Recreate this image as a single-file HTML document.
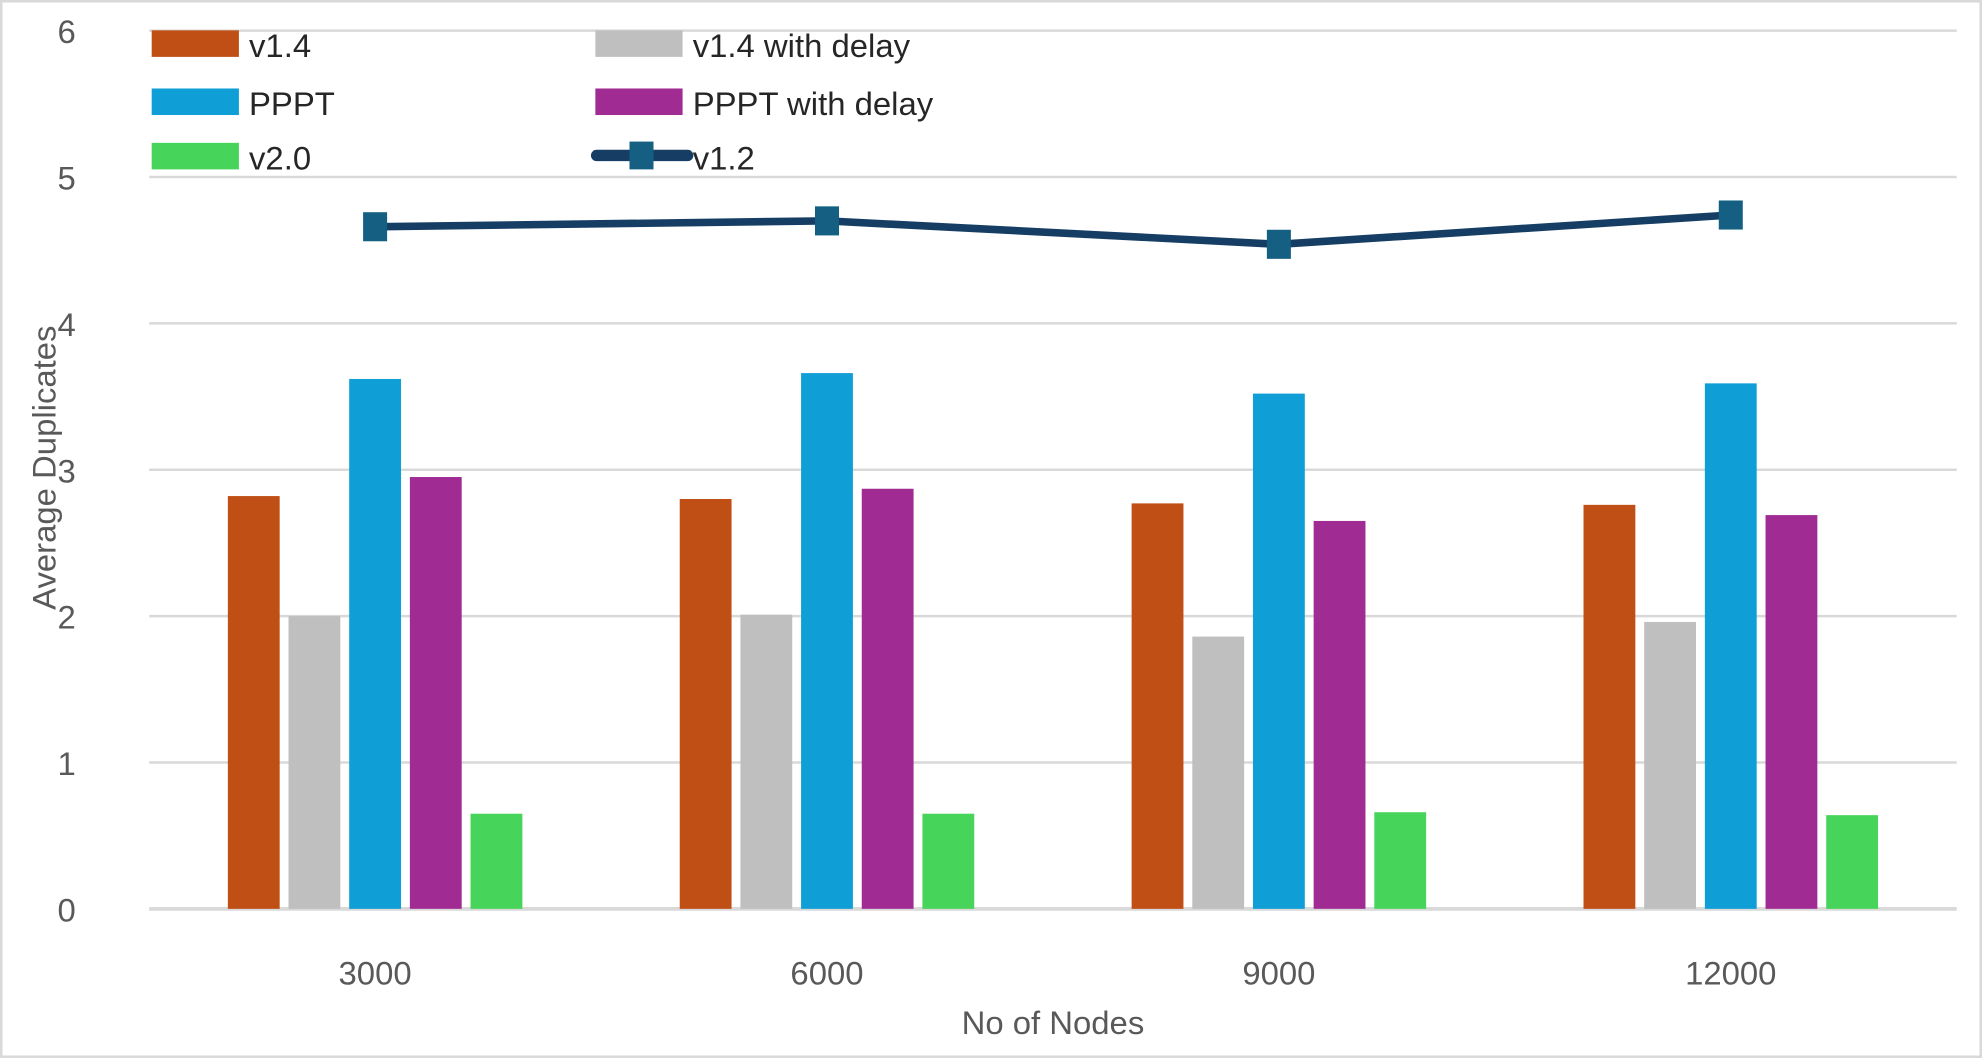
<!DOCTYPE html>
<html><head><meta charset="utf-8"><style>
html,body{margin:0;padding:0;background:#fff;}
svg{display:block;font-family:"Liberation Sans",sans-serif;}
</style></head><body>
<svg id="chart" width="1982" height="1058" viewBox="0 0 1568 837" xmlns="http://www.w3.org/2000/svg">
<rect x="1" y="1" width="1566" height="835" fill="#fff" stroke="#d9d9d9" stroke-width="2"/>
<g id="grid"></g><g id="bars"></g><g id="line"></g><g id="axes"></g>
<text x="833" y="818" font-size="26" fill="#595959" text-anchor="middle">No of Nodes</text>
<text transform="translate(44,370) rotate(-90)" font-size="26" fill="#595959" text-anchor="middle">Average Duplicates</text>
<g>
<rect x="120" y="24" width="69" height="21" fill="#c04f15"/>
<text x="197" y="45" font-size="26" fill="#262626">v1.4</text>
<rect x="471" y="24" width="69" height="21" fill="#bfbfbf"/>
<text x="548" y="45" font-size="26" fill="#262626">v1.4 with delay</text>
<rect x="120" y="70" width="69" height="21" fill="#0f9ed5"/>
<text x="197" y="91" font-size="26" fill="#262626">PPPT</text>
<rect x="471" y="70" width="69" height="21" fill="#a02b93"/>
<text x="548" y="91" font-size="26" fill="#262626">PPPT with delay</text>
<rect x="120" y="113" width="69" height="21" fill="#47d45a"/>
<text x="197" y="134" font-size="26" fill="#262626">v2.0</text>
<line x="0" x1="472" y1="123" x2="544" y2="123" stroke="#163e64" stroke-width="9" stroke-linecap="round"/>
<rect x="498" y="112" width="19" height="22" fill="#156082"/>
<text x="548" y="134" font-size="26" fill="#262626">v1.2</text>
</g>
</svg>
<script>
const categories = ["3000","6000","9000","12000"];
const v14 = [2.82, 2.80, 2.77, 2.76];
const v14delay = [2.00, 2.01, 1.86, 1.96];
const pppt = [3.62, 3.66, 3.52, 3.59];
const ppptdelay = [2.95, 2.87, 2.65, 2.69];
const v20 = [0.65, 0.65, 0.66, 0.64];
const v12 = [4.66, 4.70, 4.54, 4.74];
const yTicks = [0,1,2,3,4,5,6];

const NS="http://www.w3.org/2000/svg";
const L=118,R=1548,Y0=719,UNIT=115.8;
const y=v=>Y0-v*UNIT;
const band=(R-L)/categories.length;
const xc=i=>L+band*(i+0.5);
function mk(tag,attrs,parent){const e=document.createElementNS(NS,tag);for(const k in attrs)e.setAttribute(k,attrs[k]);parent.appendChild(e);return e;}
const grid=document.getElementById('grid'),axes=document.getElementById('axes'),bars=document.getElementById('bars'),line=document.getElementById('line');
yTicks.forEach(t=>{
  const g=mk('line',{x1:L,x2:R,y1:y(t),y2:y(t),stroke:'#d9d9d9','stroke-width':t===0?3:2},grid);
  
  
  const tx=mk('text',{x:60,y:y(t)+10,'font-size':26,fill:'#595959','text-anchor':'end'},axes);
  tx.textContent=t;
  
  
});
categories.forEach((c,i)=>{
  const tx=mk('text',{x:xc(i),y:779,'font-size':26,fill:'#595959','text-anchor':'middle'},axes);
  tx.textContent=c;
  
  
});
const series=[[v14,'#c04f15','v14'],[v14delay,'#bfbfbf','v14-delay'],[pppt,'#0f9ed5','pppt'],[ppptdelay,'#a02b93','pppt-delay'],[v20,'#47d45a','v20']];
const bw=41,stride=48;
series.forEach((s,si)=>{
  s[0].forEach((v,i)=>{
    const x=xc(i)-2*stride-bw/2+si*stride;
    const r=mk('rect',{x:x,y:y(v),width:bw,height:v*UNIT,fill:s[1]},bars);
    
    
  });
});
const pts=v12.map((v,i)=>xc(i)+','+y(v)).join(' ');
const pl=mk('polyline',{points:pts,fill:'none',stroke:'#163e64','stroke-width':6,'stroke-linejoin':'round'},line);


v12.forEach((v,i)=>{
  const m=mk('rect',{x:xc(i)-9,y:y(v)-11,width:18,height:22,fill:'#156082',stroke:'#156082'},line);
  
  
});
</script>
</body></html>
